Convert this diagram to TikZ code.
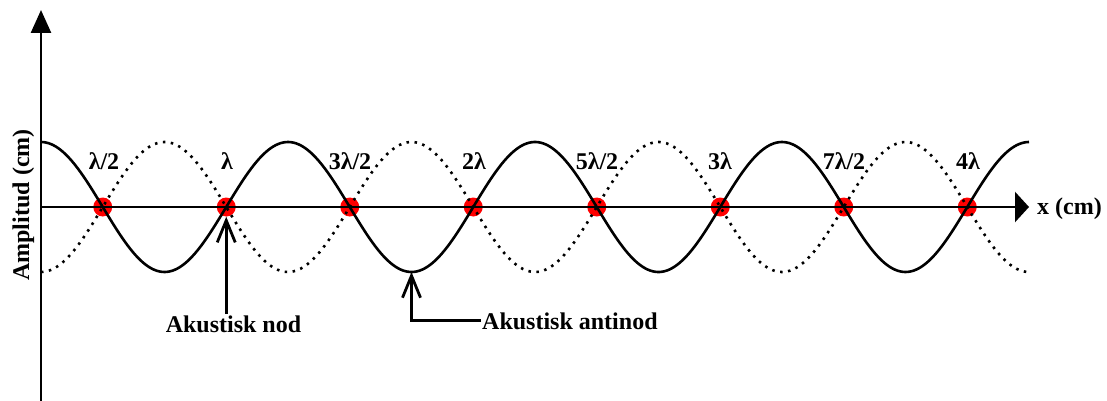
\documentclass[tikz,border=0pt]{standalone}
\usepackage{fontspec}
\setmainfont{Liberation Serif}
\usetikzlibrary{arrows.meta}
\begin{document}
\begin{tikzpicture}[x=1pt,y=-1pt,
  lbl/.style={font=\fontsize{24}{28}\selectfont\bfseries, inner sep=1pt},
  reddot/.style={circle, fill=red, minimum size=19pt, inner sep=0pt},
  wave/.style={line width=2.6pt},
  dots/.style={line width=2.6pt, dash pattern=on 2.5pt off 5.5pt},
  axis/.style={line width=2.6pt},
  pointer/.style={line width=2.8pt, -{Straight Barb[length=22pt,width=18pt,line width=2.8pt]}},
]
\useasboundingbox (0,0) rectangle (1107,401);
% node dots
\foreach \i in {1,...,8} {
  \node[reddot] (n\i) at ({41+61.75*(2*\i-1)},207) {};
}
% axes
\coordinate (o) at (41,207);
\coordinate (ytop) at (41,10);
\coordinate (ybot) at (41,401);
\coordinate (xend) at (1029,207);
\draw[axis, -{Triangle[length=23pt,width=20pt]}] (ybot) -- (ytop);
\draw[axis, -{Triangle[length=14pt,width=30pt]}] (o) -- (xend);
% waves
\draw[wave] plot[domain=41:1029, samples=400, smooth] (\x, {207-65*cos(((\x-41)/247)*360)});
\draw[dots] plot[domain=41:1027, samples=400, smooth] (\x, {207+65*cos(((\x-41)/247)*360)});
% labels
\node[lbl, anchor=base] (l1) at (104,169) {λ/2};
\node[lbl, anchor=base] (l2) at (227,169) {λ};
\node[lbl, anchor=base] (l3) at (350,169) {3λ/2};
\node[lbl, anchor=base] (l4) at (474,169) {2λ};
\node[lbl, anchor=base] (l5) at (597,169) {5λ/2};
\node[lbl, anchor=base] (l6) at (720,169) {3λ};
\node[lbl, anchor=base] (l7) at (844,169) {7λ/2};
\node[lbl, anchor=base] (l8) at (968,169) {4λ};
\node[lbl, anchor=base west, inner sep=0pt] (xl) at (1037,214) {x (cm)};
\node[lbl, rotate=90, anchor=base] (yl) at (29,205) {Amplitud (cm)};
% pointers
\node[lbl, anchor=base] (nodtxt) at (233.5,332) {Akustisk nod};
\draw[pointer] (nodtxt.north -| n2) -- (n2);
\coordinate (an) at (411.5,272);
\node[lbl, anchor=base west] (antxt) at (481,329) {Akustisk antinod};
\draw[pointer] (antxt.west) -| (an);
\end{tikzpicture}
\end{document}
